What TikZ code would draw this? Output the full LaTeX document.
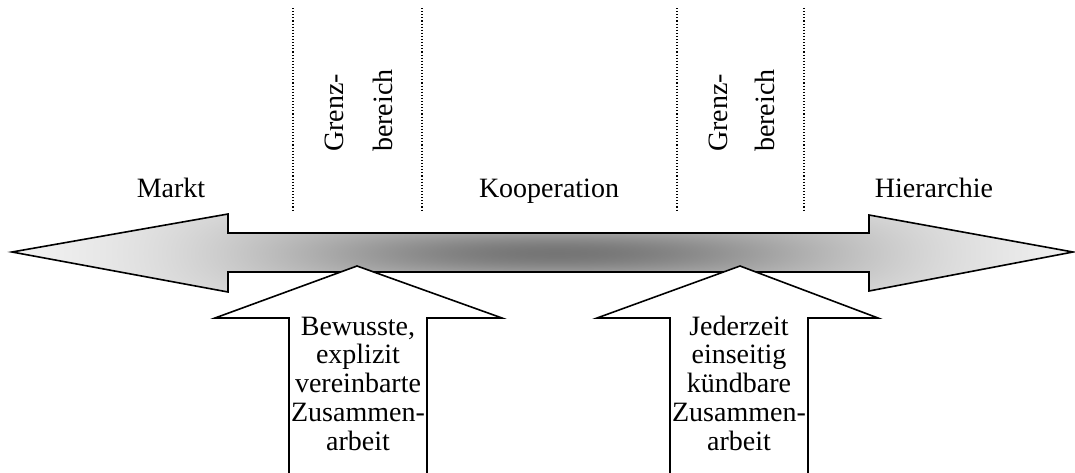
\documentclass[tikz,border=0pt]{standalone}
\usepackage{fontspec}
\setmainfont{Liberation Serif}

% grey fill of the double arrow: nearly white at the tips, darkest in the
% middle of the shaft, with the shaft lightening towards its top and bottom
\pgfdeclarefunctionalshading{barshade}{\pgfpoint{-50bp}{-50bp}}{\pgfpoint{50bp}{50bp}}{}{
  25 div exch 25 div 0.027 sub
  dup dup mul
  dup 0.25 div neg 2.71828 exch exp
  4 -1 roll
  dup mul 1.43 mul mul
  exch 0.377 div add
  neg 2.71828 exch exp
  0.52 mul 0.98 exch sub
  exch pop dup dup
}

\tikzset{
  lbl/.style={font=\fontsize{28}{28.75}\selectfont, inner sep=0pt},
  sidelbl/.style={lbl, rotate=90, anchor=base west},
  bound/.style={dotted, line width=1.1pt},
  outline/.style={line width=1.6pt, line join=miter},
  uparrow/.style={outline, fill=white},
}

\begin{document}
\begin{tikzpicture}[x=1pt, y=-1pt]
\useasboundingbox (0,0) rectangle (1075,472);

% dotted borders of the two transition zones
\coordinate (d1t) at (293,8);   \coordinate (d1b) at (293,212);
\coordinate (d2t) at (422,8);   \coordinate (d2b) at (422,212);
\coordinate (d3t) at (677,8);   \coordinate (d3b) at (677,212);
\coordinate (d4t) at (804,8);   \coordinate (d4b) at (804,212);
\draw[bound] (d1t) -- (d1b);
\draw[bound] (d2t) -- (d2b);
\draw[bound] (d3t) -- (d3b);
\draw[bound] (d4t) -- (d4b);

% rotated zone labels
\node[sidelbl] (g1a) at (343,152) {Grenz-};
\node[sidelbl] (g1b) at (392,152) {bereich};
\node[sidelbl] (g2a) at (727,152) {Grenz-};
\node[sidelbl] (g2b) at (774,152) {bereich};

% labels above the axis
\node[lbl, anchor=base] (markt) at (171,197) {Markt};
\node[lbl, anchor=base] (koop)  at (549,197) {Kooperation};
\node[lbl, anchor=base] (hier)  at (934,197) {Hierarchie};

% double-headed axis arrow
\def\axispath{(12,252) -- (228,214) -- (228,233) -- (869,233) -- (869,215)
  -- (1073,252) -- (869,291) -- (869,272) -- (228,272) -- (228,292) -- cycle}
\shade[shading=barshade] \axispath;
\draw[outline] \axispath;

% left upward arrow (base anchor = baseline of the last line)
\draw[uparrow] (289,480) -- (289,318) -- (215,318) -- (357,266)
  -- (502,318) -- (427,318) -- (427,480);
\node[lbl, align=center, anchor=base] (txtL) at (358,450)
  {Bewusste,\\explizit\\vereinbarte\\Zusammen-\\arbeit};

% right upward arrow
\draw[uparrow] (670,480) -- (670,318) -- (597,318) -- (740,266)
  -- (878,318) -- (808,318) -- (808,480);
\node[lbl, align=center, anchor=base] (txtR) at (739,450)
  {Jederzeit\\einseitig\\kündbare\\Zusammen-\\arbeit};
\end{tikzpicture}
\end{document}
